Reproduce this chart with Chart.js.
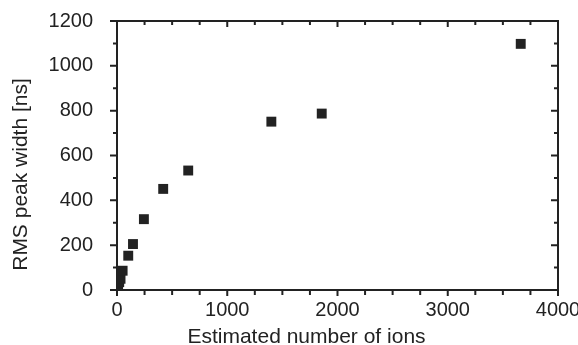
<!DOCTYPE html>
<html>
<head>
<meta charset="utf-8">
<script src="https://cdn.jsdelivr.net/npm/chart.js@4/dist/chart.umd.min.js"></script>
<style>
  html, body { margin: 0; padding: 0; background: #fff; }
  #wrap { width: 578px; height: 345px; position: relative; }
</style>
</head>
<body>
<div id="wrap"><canvas id="c" width="578" height="345"></canvas></div>
<script>
// ---- data ----
const ionCounts = [10, 20, 32, 51, 102, 145, 244, 419, 646, 1400, 1857, 3662];
const peakWidths = [22, 35, 50, 86, 153, 205, 316, 451, 533, 751, 787, 1098];
const xTickValues = [0, 1000, 2000, 3000, 4000];
const yTickValues = [0, 200, 400, 600, 800, 1000, 1200];
const xTitle = 'Estimated number of ions';
const yTitle = 'RMS peak width [ns]';

const INK = '#222222';
const FONT = '"Liberation Sans", Arial, Helvetica, sans-serif';

const framePlugin = {
  id: 'frame',
  afterDraw(chart) {
    const ctx = chart.ctx;
    const xs = chart.scales.x, ys = chart.scales.y;
    const a = chart.chartArea;
    ctx.save();
    ctx.strokeStyle = INK;
    ctx.lineWidth = 2;
    // frame
    ctx.beginPath();
    ctx.rect(a.left, a.top, a.right - a.left, a.bottom - a.top);
    ctx.stroke();
    // x ticks (bottom outward, top inward), minor every 250
    for (let v = xs.min; v <= xs.max + 1e-9; v += 250) {
      const px = xs.getPixelForValue(v);
      const major = Math.abs(v % 1000) < 1e-9;
      const lb = major ? 6 : 5, lt = major ? 6 : 4;
      ctx.beginPath();
      ctx.moveTo(px, a.bottom); ctx.lineTo(px, a.bottom + lb);
      ctx.moveTo(px, a.top); ctx.lineTo(px, a.top + lt);
      ctx.stroke();
    }
    // y ticks (left outward, right inward), minor every 100
    for (let v = ys.min; v <= ys.max + 1e-9; v += 100) {
      const py = ys.getPixelForValue(v);
      const major = Math.abs(v % 200) < 1e-9;
      const l = major ? 7 : 4;
      ctx.beginPath();
      ctx.moveTo(a.left, py); ctx.lineTo(a.left - l, py);
      ctx.moveTo(a.right, py); ctx.lineTo(a.right - l, py);
      ctx.stroke();
    }
    // axis titles
    ctx.fillStyle = INK;
    ctx.font = '21px ' + FONT;
    ctx.textAlign = 'center';
    ctx.textBaseline = 'alphabetic';
    ctx.fillText(xTitle, (a.left + a.right) / 2 - 31, 343);
    ctx.translate(27, (a.top + a.bottom) / 2 + 19);
    ctx.rotate(-Math.PI / 2);
    ctx.fillText(yTitle, 0, 0);
    ctx.restore();
  }
};

function noPad(s) { s.paddingLeft = 0; s.paddingRight = 0; s.paddingTop = 0; s.paddingBottom = 0; }

new Chart(document.getElementById('c'), {
  type: 'scatter',
  data: {
    datasets: [{
      data: ionCounts.map((x, i) => ({ x: x, y: peakWidths[i] })),
      pointStyle: 'rect',
      pointRadius: 7,
      pointHoverRadius: 7,
      pointBorderWidth: 0,
      backgroundColor: INK,
      borderColor: INK
    }]
  },
  options: {
    responsive: false,
    animation: false,
    events: [],
    layout: { padding: { top: 21, right: 20, left: 0, bottom: 0 } },
    plugins: { legend: { display: false }, tooltip: { enabled: false } },
    scales: {
      x: {
        type: 'linear',
        min: 0, max: 4000,
        afterFit(s) { s.height = 55; noPad(s); },
        afterBuildTicks(s) { s.ticks = xTickValues.map(v => ({ value: v })); },
        grid: { display: false, drawTicks: false },
        border: { display: false },
        ticks: { color: INK, font: { family: FONT, size: 20 }, padding: 8, maxRotation: 0,
                 callback: v => String(v) }
      },
      y: {
        type: 'linear',
        min: 0, max: 1200,
        afterFit(s) { s.width = 117; noPad(s); },
        afterBuildTicks(s) { s.ticks = yTickValues.map(v => ({ value: v })); },
        grid: { display: false, drawTicks: false },
        border: { display: false },
        ticks: { color: INK, font: { family: FONT, size: 20 }, padding: 24,
                 callback: v => String(v) }
      }
    }
  },
  plugins: [framePlugin]
});
</script>
</body>
</html>
